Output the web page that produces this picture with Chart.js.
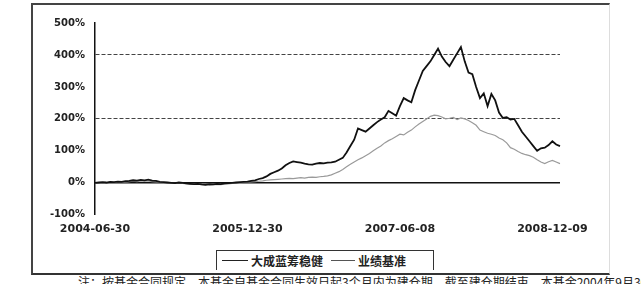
<!DOCTYPE html>
<html>
<head>
<meta charset="utf-8">
<script src="https://cdn.jsdelivr.net/npm/chart.js@4.4.1/dist/chart.umd.min.js"></script>
<style>
    body { margin: 0; width: 641px; height: 284px; overflow: hidden; background: #fff; position: relative; }
    #frame { position: absolute; left: 31px; top: 3px; width: 576px; height: 268px;
        border-top: 2px solid #444; border-left: 2px solid #444; border-bottom: 2px solid #333; border-right: 1px solid #ddd; }
    #chartBox { position: absolute; left: 32px; top: 3px; }
    #legend { position: absolute; left: 216px; top: 250px; width: 218px; height: 20px;
        border: 1.5px solid #333; border-bottom: none; font-family: "Noto Sans CJK SC", sans-serif;
        font-size: 12px; font-weight: bold; color: #222; display: flex; align-items: center; padding-left: 5px; box-sizing: border-box; }
    #legend .ln { display: inline-block; width: 26px; height: 0; border-top: 1.5px solid #222; margin-right: 3px; }
    #legend .ln.gray { border-top-color: #555; width: 24px; margin-left: 8px; }
    #note { position: absolute; left: 78px; top: 273px; white-space: nowrap; font-family: "Noto Sans CJK SC", sans-serif;
        font-size: 12px; color: #222; }
</style>
</head>
<body>
<div id="frame"></div>
<div id="chartBox"><canvas id="navChart" width="576" height="239"></canvas></div>
<div id="legend"><span class="ln"></span>大成蓝筹稳健<span class="ln gray"></span>业绩基准</div>
<div id="note">注：按基金合同规定，本基金自基金合同生效日起3个月内为建仓期，截至建仓期结束，本基金2004年9月30日，各项</div>
<script>
// Cumulative net value growth of the fund (%)
const fundValues = [
    0, 1, 2, 1, 3, 2, 4, 3, 5, 6,
    8, 7, 9, 8, 10, 7, 6, 3, 2, 1,
    0, -1, 1, 0, -2, -3, -4, -3, -5, -6,
    -4, -5, -3, -4, -2, -1, 0, 1, 2, 3,
    4, 6, 8, 12, 15, 20, 28, 33, 38, 45,
    55, 62, 67, 65, 63, 60, 58, 57, 60, 62,
    61, 63, 64, 66, 72, 78, 95, 115, 135, 170,
    165, 160, 170, 180, 190, 198, 205, 225, 218, 210,
    240, 265, 258, 252, 290, 320, 350, 365, 380, 400,
    420, 395, 378, 365, 385, 405, 425, 380, 345, 340,
    300, 265, 280, 240, 278, 258, 220, 203, 205, 198,
    200, 180, 160, 145, 130, 115, 100, 108, 110, 118,
    130, 120, 115
];

// Benchmark growth (%)
const benchmarkValues = [
    0, 0, 1, 1, 2, 1, 2, 3, 2, 4,
    5, 4, 5, 6, 5, 4, 3, 2, 1, 0,
    -1, -2, -1, -2, -3, -4, -5, -4, -6, -5,
    -7, -6, -5, -6, -4, -3, -2, -1, 0, 1,
    2, 3, 4, 5, 6, 8, 9, 10, 11, 12,
    13, 14, 13, 15, 16, 15, 17, 18, 17, 19,
    20, 22, 25, 30, 35, 42, 50, 58, 65, 72,
    78, 85, 92, 100, 108, 115, 125, 132, 138, 145,
    152, 150, 158, 165, 175, 184, 192, 200, 208, 212,
    210, 206, 200, 202, 205, 198, 203, 200, 195, 188,
    180, 165, 160, 155, 152, 148, 140, 135, 125, 110,
    105, 98, 92, 88, 85, 80, 72, 65, 60, 66,
    70, 65, 60
];

// Dates shown under the x axis, keyed by point index
const dateTicks = { 0: '2004-06-30', 40: '2005-12-30', 80: '2007-06-08', 120: '2008-12-09' };

const yTicks = [-100, 0, 100, 200, 300, 400, 500];
const dashedLevels = [200, 400];

const labels = fundValues.map((v, i) => i);

const ctx = document.getElementById('navChart').getContext('2d');
new Chart(ctx, {
    type: 'line',
    data: {
        labels,
        datasets: [
            {
                label: '大成蓝筹稳健',
                data: fundValues,
                borderColor: '#111',
                borderWidth: 1.8,
                pointRadius: 0,
                tension: 0,
            },
            {
                label: '业绩基准',
                data: benchmarkValues,
                borderColor: '#9a9a9a',
                borderWidth: 1.2,
                pointRadius: 0,
                tension: 0,
            },
        ],
    },
    options: {
        responsive: false,
        animation: false,
        layout: { padding: { top: 20, right: 48, left: 0, bottom: 6 } },
        plugins: { legend: { display: false }, tooltip: { enabled: false } },
        scales: {
            x: {
                offset: false,
                grid: { display: false },
                border: { display: false },
                ticks: {
                    autoSkip: false,
                    maxRotation: 0,
                    padding: 0,
                    color: '#222',
                    font: { family: 'DejaVu Sans', size: 11, weight: 'bold' },
                    callback: (value, index) => dateTicks[index] || '',
                },
            },
            y: {
                min: yTicks[0],
                max: yTicks[yTicks.length - 1],
                afterBuildTicks: (scale) => { scale.ticks = yTicks.map(v => ({ value: v })); },
                afterFit: (scale) => { scale.width = 63; },
                ticks: {
                    padding: 10,
                    color: '#222',
                    font: { family: 'DejaVu Sans', size: 10, weight: 'bold' },
                    callback: (value) => value + '%',
                },
                grid: {
                    drawTicks: false,
                    color: (c) => {
                        if (!c.tick) return 'rgba(0,0,0,0)';
                        if (c.tick.value === 0) return '#111';
                        return dashedLevels.includes(c.tick.value) ? '#444' : 'rgba(0,0,0,0)';
                    },
                    lineWidth: (c) => (c.tick && c.tick.value === 0 ? 1.5 : 1),
                },
                border: {
                    display: true,
                    color: '#111',
                    width: 1.5,
                    dash: (c) => (c.tick && c.tick.value !== 0 ? [4, 2] : []),
                },
            },
        },
    },
});
</script>
</body>
</html>
